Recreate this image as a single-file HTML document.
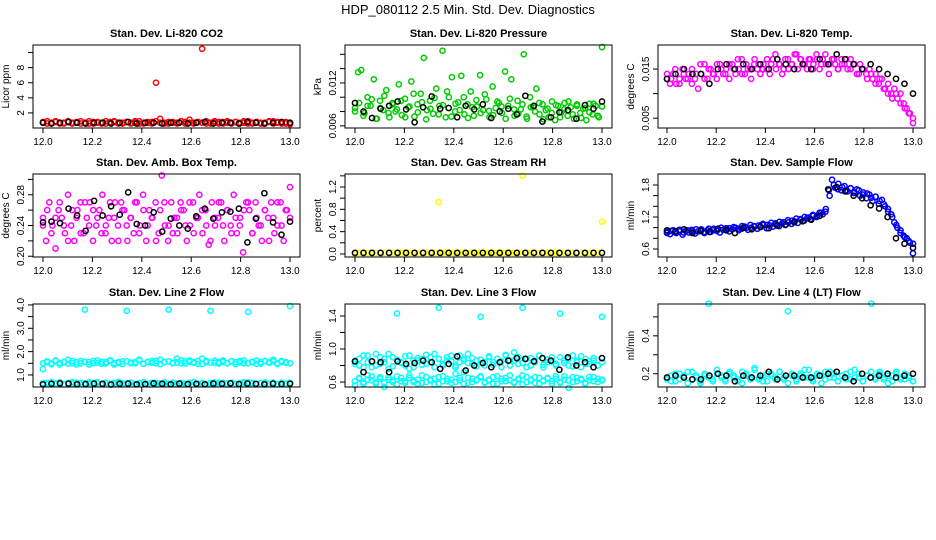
<!DOCTYPE html>
<html><head><meta charset="utf-8">
<style>
html,body{margin:0;padding:0;background:#fff;}
svg{display:block;font-family:"Liberation Sans",Arial,sans-serif;}
</style></head>
<body>
<svg id="chart" width="936" height="540" viewBox="0 0 936 540">
<rect width="936" height="540" fill="#fff"/>
<text x="468" y="14" font-size="13" text-anchor="middle">HDP_080112  2.5 Min. Std. Dev. Diagnostics</text>
</svg>
<script>
// ---- data ----
const xTickValues = [12.0,12.2,12.4,12.6,12.8,13.0];
const xTickLabels = ["12.0","12.2","12.4","12.6","12.8","13.0"];

const co2Red = [0.8,0.6,0.7,0.9,0.6,0.7,0.8,0.6,0.7,0.9,0.7,0.6,0.8,0.7,0.6,0.9,0.7,0.8,0.6,0.7,0.8,0.6,0.7,0.9,0.6,0.7,0.8,6.0,1.2,0.7,0.6,0.8,0.7,0.9,0.6,1.1,0.7,0.8,10.5,0.6,0.7,0.9,0.6,0.8,0.7,0.6,0.8,0.7,0.9,0.6,0.7,0.8,0.6,0.7,0.9,0.6,0.8,0.7,0.6,0.5];
const co2RedB = [0.7,0.9,0.6,0.8,0.7,0.6,0.9,0.7,0.8,0.6,0.7,0.9,0.6,0.8,0.7,0.6,0.8,0.9,0.7,0.6,0.8,0.7,0.9,0.6,0.7,0.8,0.6,0.9,0.7,0.6,0.8,0.7,0.6,0.9,0.8,0.7,0.6,0.8,0.7,0.9,0.6,0.7,0.8,0.6,0.9,0.7,0.8,0.6,0.7,0.9,0.6,0.8,0.7,0.6,0.8,0.9,0.7,0.6,0.8,0.7];
const co2Black = [0.7,0.6,0.7,0.8,0.7,0.6,0.7,0.7,0.6,0.7,0.8,0.6,0.7,0.7,0.6,0.7,0.7,0.6,0.7,0.8,0.6,0.7,0.7,0.6,0.8,0.7,0.6,0.7,0.8,0.7];

const pressGreen = [0.0085,0.0135,0.0138,0.0078,0.0100,0.0088,0.0125,0.0070,0.0095,0.0082,0.0110,0.0072,0.0092,0.0080,0.0118,0.0075,0.0098,0.0086,0.0122,0.0073,0.0090,0.0105,0.0155,0.0082,0.0095,0.0077,0.0112,0.0088,0.0165,0.0072,0.0100,0.0128,0.0080,0.0093,0.0130,0.0076,0.0090,0.0108,0.0074,0.0087,0.0131,0.0082,0.0097,0.0072,0.0115,0.0085,0.0092,0.0078,0.0136,0.0088,0.0125,0.0074,0.0095,0.0083,0.0160,0.0070,0.0100,0.0086,0.0112,0.0076,0.0090,0.0082,0.0072,0.0094,0.0068,0.0088,0.0079,0.0092,0.0074,0.0086,0.0070,0.0090,0.0078,0.0084,0.0068,0.0091,0.0076,0.0088,0.0072,0.0170];
const pressGreenB = [0.0080,0.0092,0.0074,0.0088,0.0097,0.0070,0.0085,0.0102,0.0078,0.0090,0.0083,0.0095,0.0072,0.0087,0.0105,0.0079,0.0093,0.0069,0.0084,0.0099,0.0076,0.0089,0.0108,0.0073,0.0091,0.0082,0.0100,0.0071,0.0086,0.0096,0.0078,0.0104,0.0081,0.0075,0.0094,0.0087,0.0070,0.0098,0.0083,0.0077,0.0090,0.0073,0.0086,0.0080,0.0092,0.0069,0.0084,0.0078,0.0089,0.0072,0.0083,0.0094,0.0076,0.0088,0.0071,0.0085,0.0079,0.0091,0.0074,0.0087];
const pressBlack = [0.0092,0.0080,0.0071,0.0084,0.0088,0.0094,0.0083,0.0065,0.0086,0.0101,0.0084,0.0085,0.0072,0.0088,0.0083,0.0090,0.0071,0.0080,0.0084,0.0076,0.0102,0.0088,0.0066,0.0072,0.0079,0.0082,0.0070,0.0089,0.0084,0.0094];

const tempMagenta = [0.013,0.012,0.014,0.012,0.013,0.015,0.013,0.014,0.012,0.013,0.011,0.014,0.016,0.013,0.015,0.014,0.013,0.016,0.014,0.015,0.013,0.016,0.014,0.015,0.017,0.014,0.015,0.013,0.016,0.015,0.014,0.016,0.015,0.014,0.017,0.015,0.016,0.014,0.017,0.015,0.016,0.018,0.015,0.017,0.016,0.015,0.017,0.016,0.018,0.015,0.017,0.016,0.014,0.017,0.016,0.015,0.017,0.016,0.015,0.017,0.016,0.014,0.016,0.015,0.014,0.015,0.013,0.014,0.012,0.013,0.011,0.012,0.010,0.011,0.009,0.010,0.008,0.007,0.006,0.004];
const tempMagentaB = [0.014,0.013,0.015,0.012,0.014,0.013,0.015,0.014,0.016,0.013,0.015,0.014,0.016,0.015,0.014,0.016,0.015,0.017,0.014,0.016,0.015,0.017,0.016,0.015,0.017,0.016,0.018,0.016,0.015,0.017,0.016,0.018,0.017,0.016,0.017,0.015,0.017,0.016,0.018,0.016,0.017,0.015,0.016,0.017,0.015,0.016,0.014,0.015,0.013,0.014,0.012,0.013,0.011,0.010,0.009,0.010,0.008,0.007,0.006,0.005];
const tempBlack = [0.013,0.014,0.015,0.014,0.014,0.012,0.015,0.016,0.015,0.016,0.015,0.016,0.015,0.017,0.016,0.015,0.016,0.015,0.017,0.016,0.018,0.017,0.016,0.015,0.016,0.015,0.014,0.013,0.012,0.010];

const ambMagenta = [0.25,0.22,0.27,0.24,0.21,0.26,0.25,0.23,0.28,0.24,0.22,0.26,0.27,0.23,0.25,0.27,0.22,0.24,0.26,0.28,0.23,0.25,0.22,0.27,0.24,0.27,0.26,0.22,0.25,0.23,0.27,0.24,0.28,0.22,0.26,0.25,0.27,0.23,0.305,0.24,0.22,0.27,0.25,0.23,0.27,0.26,0.22,0.24,0.27,0.25,0.28,0.23,0.26,0.215,0.27,0.24,0.25,0.27,0.22,0.26,0.24,0.28,0.23,0.25,0.205,0.27,0.26,0.23,0.27,0.24,0.22,0.26,0.25,0.27,0.23,0.24,0.27,0.22,0.26,0.29];
const ambMagentaB = [0.24,0.26,0.23,0.25,0.27,0.24,0.22,0.26,0.25,0.23,0.27,0.24,0.26,0.25,0.23,0.24,0.27,0.25,0.22,0.26,0.24,0.25,0.27,0.23,0.26,0.24,0.25,0.22,0.26,0.27,0.24,0.23,0.25,0.26,0.24,0.27,0.23,0.25,0.26,0.24,0.22,0.25,0.27,0.24,0.26,0.23,0.25,0.24,0.26,0.27,0.23,0.25,0.24,0.26,0.22,0.25,0.27,0.24,0.26,0.25];
const ambBlack = [0.244,0.245,0.243,0.262,0.253,0.233,0.272,0.253,0.265,0.254,0.283,0.242,0.240,0.257,0.232,0.249,0.240,0.236,0.252,0.262,0.249,0.257,0.258,0.262,0.218,0.249,0.282,0.244,0.228,0.245];

const rhYellow = [0.0,0.02,0.02,0.02,0.02,0.02,0.02,0.02,0.02,0.02,0.02,0.02,0.02,0.02,0.02,0.02,0.02,0.02,0.02,0.02,0.93,0.02,0.02,0.02,0.02,0.02,0.02,0.02,0.02,0.02,0.02,0.02,0.02,0.02,0.02,0.02,0.02,0.02,0.02,0.02,1.40,0.02,0.02,0.02,0.02,0.02,0.02,0.02,0.02,0.02,0.02,0.02,0.02,0.02,0.02,0.02,0.02,0.02,0.02,0.58];
const rhBlack = [0.02,0.02,0.02,0.02,0.02,0.02,0.02,0.02,0.02,0.02,0.02,0.02,0.02,0.02,0.02,0.02,0.02,0.02,0.02,0.02,0.02,0.02,0.02,0.02,0.02,0.02,0.02,0.02,0.02,0.02];

const flowBlue = [0.92,0.88,0.95,0.90,0.93,0.87,0.94,0.91,0.96,0.89,0.93,0.97,0.90,0.95,0.92,0.98,0.94,0.91,0.96,0.99,0.93,0.97,1.00,0.95,0.98,1.02,0.96,1.00,1.03,0.98,1.01,1.05,0.99,1.04,1.02,1.06,1.03,1.08,1.05,1.10,1.07,1.12,1.09,1.15,1.13,1.18,1.16,1.22,1.20,1.28,1.25,1.35,1.70,1.90,1.75,1.82,1.70,1.78,1.68,1.74,1.65,1.72,1.60,1.66,1.55,1.62,1.50,1.58,1.45,1.52,1.40,1.30,1.25,1.10,1.00,0.90,0.85,0.80,0.72,0.52];
const flowBlueB = [0.90,0.94,0.92,0.96,0.91,0.95,0.93,0.97,0.94,0.92,0.98,0.95,0.97,1.00,0.96,0.99,1.01,0.98,1.03,1.00,1.05,1.02,1.04,1.07,1.05,1.09,1.08,1.11,1.10,1.14,1.13,1.17,1.16,1.20,1.19,1.24,1.22,1.28,1.30,1.60,1.80,1.72,1.76,1.70,1.74,1.66,1.70,1.62,1.64,1.56,1.58,1.50,1.44,1.35,1.20,1.05,0.95,0.82,0.75,0.70];
const flowBlack = [0.95,0.93,0.97,0.90,0.94,0.92,0.98,0.95,0.90,1.00,0.97,1.02,0.99,1.04,1.06,1.10,1.12,1.15,1.22,1.72,1.76,1.68,1.60,1.55,1.42,1.36,1.20,0.80,0.70,0.62];

const line2Upper = [1.25,1.55,1.50,1.60,1.45,1.55,1.65,1.50,1.45,1.60,3.80,1.55,1.50,1.62,1.48,1.55,1.60,1.45,1.52,1.58,3.75,1.50,1.55,1.62,1.48,1.55,1.60,1.50,1.65,1.55,3.80,1.52,1.70,1.50,1.58,1.62,1.55,1.48,1.70,1.60,3.75,1.52,1.55,1.62,1.50,1.58,1.55,1.60,1.50,3.70,1.55,1.62,1.48,1.60,1.55,1.65,1.50,1.60,1.55,3.95];
const line2UpperB = [1.50,1.58,1.46,1.62,1.52,1.55,1.48,1.60,1.54,1.50,1.57,1.45,1.60,1.52,1.56,1.49,1.63,1.51,1.55,1.47,1.59,1.53,1.50,1.66,1.48,1.56,1.52,1.60,1.46,1.55,1.58,1.50,1.54,1.62,1.49,1.57,1.52,1.60,1.47,1.55,1.53,1.61,1.49,1.56,1.51,1.59,1.46,1.54,1.62,1.50,1.57,1.48,1.55,1.60,1.52,1.58,1.47,1.56,1.53,1.50];
const line2Lower = [0.65,0.60,0.68,0.62,0.66,0.60,0.64,0.70,0.62,0.66,0.60,0.68,0.63,0.65,0.61,0.67,0.62,0.66,0.70,0.60,0.64,0.67,0.61,0.65,0.69,0.62,0.66,0.60,0.64,0.68,0.62,0.66,0.60,0.67,0.63,0.65,0.70,0.61,0.66,0.62,0.64,0.68,0.60,0.66,0.63,0.67,0.61,0.65,0.69,0.62,0.66,0.60,0.64,0.68,0.62,0.65,0.61,0.67,0.63,0.66];
const line2LowerB = [0.62,0.66,0.60,0.64,0.68,0.61,0.65,0.63,0.67,0.60,0.64,0.62,0.66,0.69,0.61,0.65,0.63,0.60,0.67,0.64,0.62,0.66,0.60,0.65,0.68,0.61,0.63,0.66,0.62,0.64,0.60,0.67,0.63,0.65,0.61,0.66,0.69,0.62,0.64,0.60,0.65,0.63,0.67,0.61,0.64,0.66,0.62,0.60,0.65,0.68,0.63,0.61,0.66,0.64,0.62,0.67,0.60,0.65,0.63,0.66];
const line2Black = [0.60,0.62,0.64,0.63,0.60,0.61,0.63,0.62,0.59,0.62,0.63,0.60,0.61,0.64,0.62,0.60,0.63,0.61,0.62,0.60,0.63,0.62,0.64,0.61,0.63,0.62,0.60,0.63,0.61,0.62];

const line3Upper = [0.86,0.80,0.92,0.84,0.78,0.94,0.82,0.88,0.76,0.90,1.43,0.84,0.80,0.92,0.78,0.86,0.88,0.82,0.90,0.94,1.50,0.80,0.86,0.92,0.78,0.84,0.88,0.94,0.82,0.86,1.39,0.80,0.90,0.84,0.88,0.78,0.92,0.86,0.96,0.82,1.50,0.88,0.80,0.86,0.92,0.78,0.84,0.90,0.82,1.43,0.86,0.80,0.92,0.84,0.78,0.88,0.82,0.86,0.80,1.39];
const line3UpperB = [0.82,0.88,0.78,0.92,0.85,0.80,0.90,0.84,0.94,0.79,0.87,0.83,0.91,0.76,0.86,0.89,0.81,0.93,0.84,0.78,0.88,0.82,0.90,0.85,0.80,0.92,0.86,0.83,0.89,0.79,0.87,0.84,0.91,0.81,0.88,0.85,0.93,0.80,0.86,0.90,0.83,0.78,0.89,0.84,0.92,0.81,0.87,0.85,0.80,0.90,0.83,0.88,0.79,0.86,0.91,0.82,0.85,0.89,0.80,0.84];
const line3Lower = [0.56,0.64,0.60,0.68,0.62,0.58,0.66,0.54,0.63,0.60,0.67,0.61,0.59,0.65,0.62,0.58,0.68,0.60,0.63,0.57,0.66,0.61,0.64,0.59,0.70,0.62,0.58,0.65,0.60,0.63,0.67,0.59,0.62,0.66,0.58,0.64,0.61,0.68,0.60,0.63,0.57,0.66,0.62,0.59,0.65,0.61,0.64,0.58,0.67,0.60,0.63,0.53,0.66,0.61,0.64,0.59,0.62,0.66,0.60,0.63];
const line3LowerB = [0.61,0.65,0.58,0.63,0.67,0.60,0.64,0.59,0.66,0.62,0.57,0.65,0.61,0.68,0.60,0.63,0.59,0.66,0.62,0.64,0.58,0.67,0.61,0.63,0.60,0.65,0.72,0.59,0.64,0.62,0.66,0.60,0.63,0.58,0.67,0.61,0.65,0.62,0.59,0.64,0.68,0.60,0.63,0.66,0.58,0.62,0.65,0.61,0.64,0.59,0.67,0.62,0.60,0.65,0.63,0.58,0.66,0.61,0.64,0.62];
const line3Black = [0.85,0.72,0.85,0.84,0.72,0.85,0.82,0.83,0.86,0.84,0.76,0.82,0.91,0.74,0.80,0.83,0.78,0.84,0.86,0.89,0.88,0.85,0.89,0.86,0.75,0.90,0.80,0.84,0.78,0.89];

const line4Cyan = [0.18,0.16,0.20,0.17,0.19,0.15,0.21,0.18,0.16,0.19,0.57,0.17,0.20,0.18,0.16,0.21,0.19,0.17,0.15,0.20,0.18,0.22,0.17,0.19,0.16,0.20,0.18,0.21,0.17,0.53,0.19,0.16,0.20,0.18,0.22,0.17,0.19,0.15,0.21,0.18,0.20,0.16,0.19,0.17,0.21,0.18,0.20,0.16,0.19,0.57,0.18,0.21,0.17,0.19,0.16,0.20,0.18,0.17,0.19,0.16];
const line4CyanB = [0.17,0.19,0.16,0.20,0.18,0.21,0.17,0.19,0.15,0.20,0.18,0.16,0.22,0.19,0.17,0.20,0.18,0.16,0.21,0.19,0.17,0.23,0.18,0.16,0.20,0.19,0.17,0.21,0.18,0.15,0.20,0.17,0.19,0.22,0.18,0.16,0.20,0.19,0.17,0.21,0.18,0.16,0.19,0.20,0.17,0.22,0.18,0.16,0.19,0.21,0.17,0.20,0.18,0.15,0.19,0.21,0.17,0.20,0.18,0.16];
const line4Black = [0.18,0.19,0.18,0.17,0.17,0.19,0.20,0.19,0.16,0.19,0.18,0.19,0.21,0.17,0.19,0.19,0.18,0.18,0.19,0.20,0.21,0.18,0.16,0.20,0.18,0.19,0.20,0.18,0.19,0.20];

// ---- panels ----
const panels = [
 {name:"co2",title:"Stan. Dev. Li-820 CO2",ylab:"Licor ppm",box:[33,45,300,128],x0:43,x1:290,ymin:0,ymax:11.0,
  yt:[2,4,6,8,10],yl:["2","4","6","8",""],series:[[co2Red,"#ff0000"],[co2RedB,"#ff0000"],[co2Black,"#000"]]},
 {name:"pressure",title:"Stan. Dev. Li-820 Pressure",ylab:"kPa",box:[345,45,612,128],x0:355,x1:602,ymin:0.0057,ymax:0.0173,
  yt:[0.006,0.008,0.010,0.012,0.014,0.016],yl:["0.006","","","0.012","",""],series:[[pressGreen,"#00cc00"],[pressGreenB,"#00cc00"],[pressBlack,"#000"]]},
 {name:"temp",title:"Stan. Dev. Li-820 Temp.",ylab:"degrees C",box:[658,45,925,128],x0:667,x1:913,ymin:0.003,ymax:0.0199,
  yt:[0.005,0.010,0.015],yl:["0.005","","0.015"],series:[[tempMagenta,"#ff00ff"],[tempMagentaB,"#ff00ff"],[tempBlack,"#000"]]},
 {name:"amb-temp",title:"Stan. Dev. Amb. Box Temp.",ylab:"degrees C",box:[33,174,300,257],x0:43,x1:290,ymin:0.199,ymax:0.307,
  yt:[0.20,0.22,0.24,0.26,0.28,0.30],yl:["0.20","","0.24","","0.28",""],series:[[ambMagenta,"#ff00ff"],[ambMagentaB,"#ff00ff"],[ambBlack,"#000"]]},
 {name:"rh",title:"Stan. Dev. Gas Stream RH",ylab:"percent",box:[345,174,612,257],x0:355,x1:602,ymin:-0.054,ymax:1.433,
  yt:[0,0.2,0.4,0.6,0.8,1.0,1.2,1.4],yl:["0.0","","0.4","","0.8","","1.2",""],series:[[rhYellow,"#ffff00"],[rhBlack,"#000"]]},
 {name:"sample-flow",title:"Stan. Dev. Sample Flow",ylab:"ml/min",box:[658,174,925,257],x0:667,x1:913,ymin:0.45,ymax:2.006,
  yt:[0.6,0.8,1.0,1.2,1.4,1.6,1.8],yl:["0.6","","","1.2","","","1.8"],series:[[flowBlue,"#0000ff"],[flowBlueB,"#0000ff"],[flowBlack,"#000"]]},
 {name:"line2",title:"Stan. Dev. Line 2 Flow",ylab:"ml/min",box:[33,304,300,387],x0:43,x1:290,ymin:0.485,ymax:4.04,
  yt:[1.0,1.5,2.0,2.5,3.0,3.5,4.0],yl:["1.0","","2.0","","3.0","","4.0"],series:[[line2Upper,"#00ffff"],[line2UpperB,"#00ffff"],[line2Lower,"#00ffff"],[line2LowerB,"#00ffff"],[line2Black,"#000"]]},
 {name:"line3",title:"Stan. Dev. Line 3 Flow",ylab:"ml/min",box:[345,304,612,387],x0:355,x1:602,ymin:0.54,ymax:1.545,
  yt:[0.6,0.8,1.0,1.2,1.4],yl:["0.6","","1.0","","1.4"],series:[[line3Upper,"#00ffff"],[line3UpperB,"#00ffff"],[line3Lower,"#00ffff"],[line3LowerB,"#00ffff"],[line3Black,"#000"]]},
 {name:"line4",title:"Stan. Dev. Line 4 (LT) Flow",ylab:"ml/min",box:[658,304,925,387],x0:667,x1:913,ymin:0.13,ymax:0.568,
  yt:[0.2,0.3,0.4,0.5],yl:["0.2","","0.4",""],series:[[line4Cyan,"#00ffff"],[line4CyanB,"#00ffff"],[line4Black,"#000"]]}
];

const NS="http://www.w3.org/2000/svg";
const svg=document.getElementById("chart");
function mk(tag,attrs,parent){const e=document.createElementNS(NS,tag);for(const k in attrs)e.setAttribute(k,attrs[k]);parent.appendChild(e);return e;}

panels.forEach(p=>{
  const [L,T,R,B]=p.box;
  const g=mk("g",{},svg);
  
  
  const xs=v=>p.x0+(v-12)*(p.x1-p.x0);
  const ys=v=>B-(v-p.ymin)/(p.ymax-p.ymin)*(B-T);
  const t=mk("text",{x:(L+R)/2,y:T-8,"font-size":11,"font-weight":"bold","text-anchor":"middle"},g);
  t.textContent=p.title;
  
  
  p.series.forEach(([arr,col])=>{
    const sg=mk("g",{fill:"none",stroke:col,"stroke-width":1.5},g);
    
    
    const n=arr.length;
    arr.forEach((v,i)=>{
      const c=mk("circle",{cx:xs(12+i/(n-1)).toFixed(1),cy:ys(v).toFixed(1),r:2.6},sg);
      
      
    });
  });
  const box=mk("rect",{x:L,y:T,width:R-L,height:B-T,fill:"none",stroke:"#000","stroke-width":1},g);
  
  
  const xa=mk("g",{stroke:"#000","stroke-width":1},g);
  
  
  xTickValues.forEach((v,i)=>{
    const x=xs(v);
    mk("line",{x1:x,y1:B,x2:x,y2:B+5},xa);
    const lt=mk("text",{x:x,y:B+17,"font-size":10,"text-anchor":"middle",stroke:"none"},xa);
    lt.textContent=xTickLabels[i];
    
    
  });
  const ya=mk("g",{stroke:"#000","stroke-width":1},g);
  
  
  p.yt.forEach((v,i)=>{
    const y=ys(v);
    mk("line",{x1:L-5,y1:y,x2:L,y2:y},ya);
    if(p.yl[i]){
      const lt=mk("text",{x:L-9,y:y,"font-size":10,"text-anchor":"middle",stroke:"none",transform:`rotate(-90 ${L-9} ${y})`},ya);
      lt.textContent=p.yl[i];
      
      
    }
  });
  const yl=mk("text",{x:L-24,y:(T+B)/2,"font-size":10,"text-anchor":"middle",transform:`rotate(-90 ${L-24} ${(T+B)/2})`},g);
  yl.textContent=p.ylab;
  
  
});
</script>
</body></html>
